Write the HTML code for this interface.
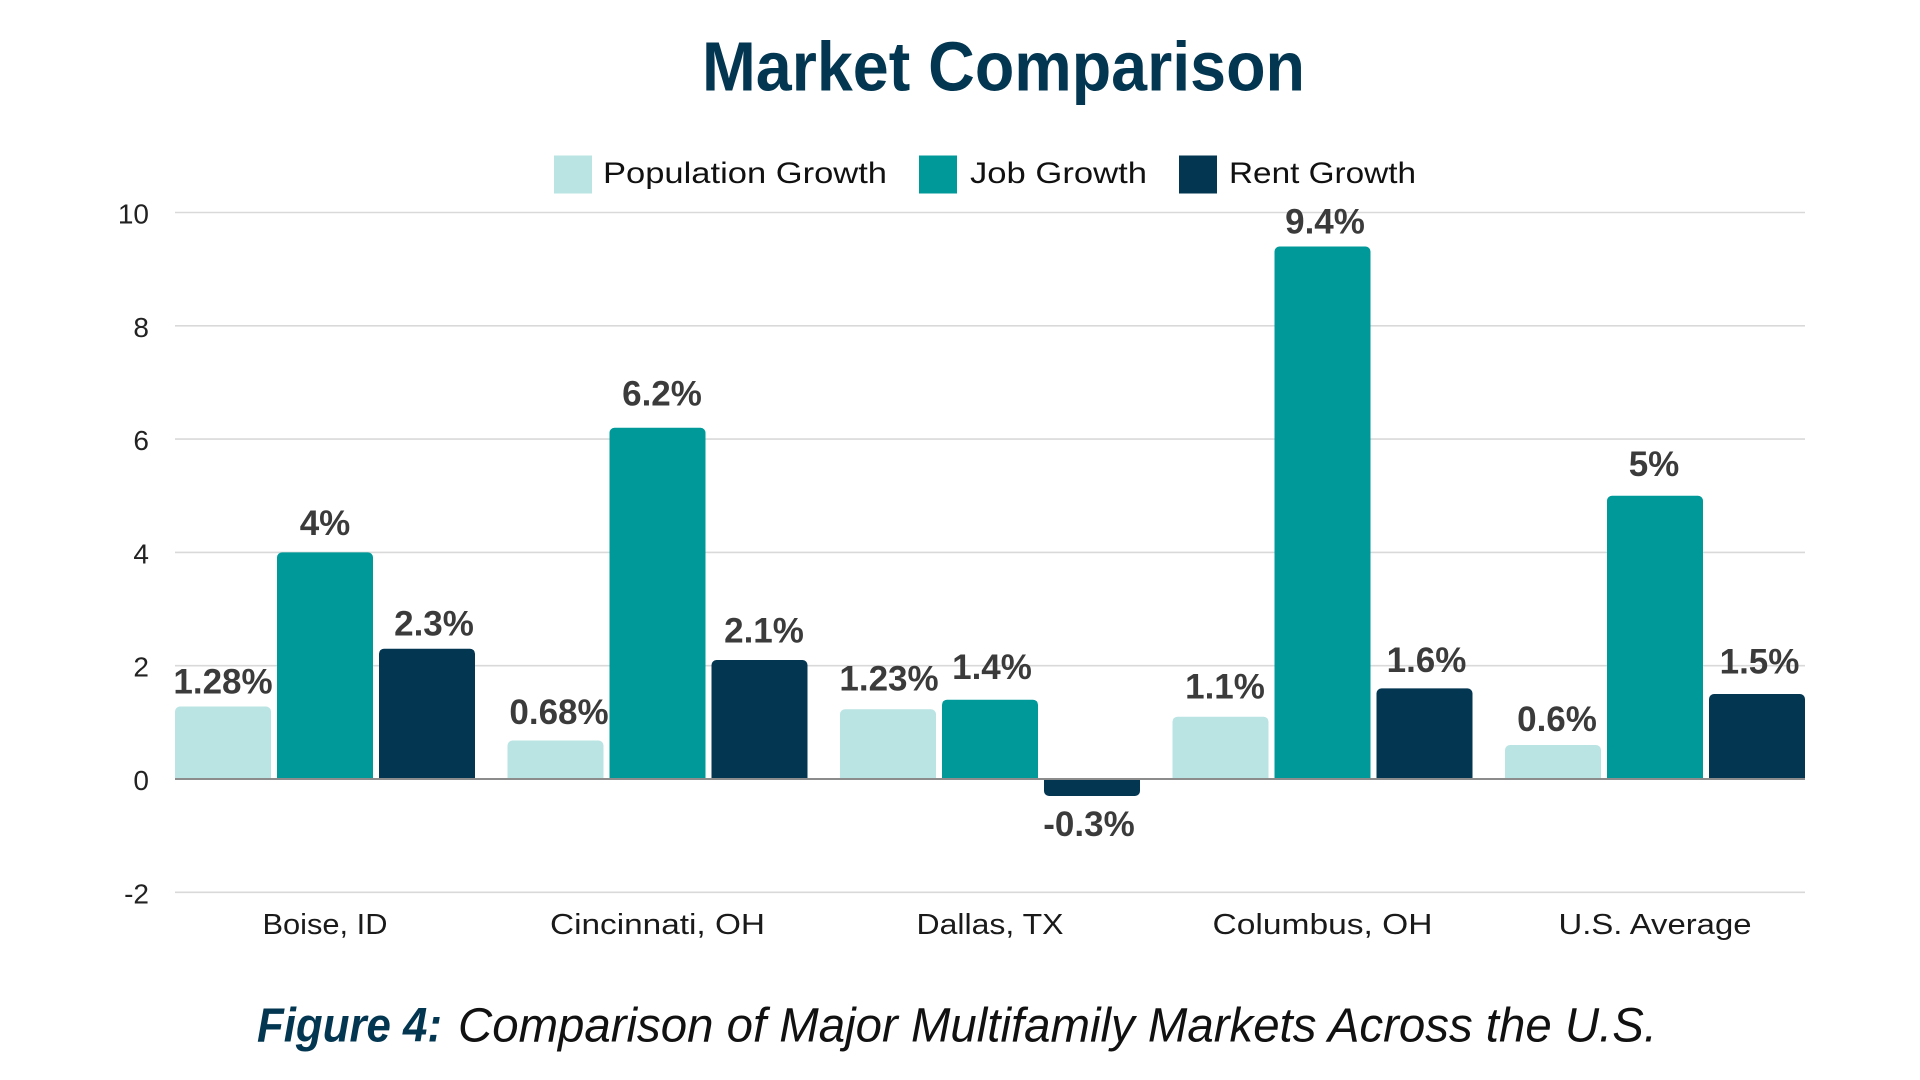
<!DOCTYPE html>
<html>
<head>
<meta charset="utf-8">
<style>
  html, body { margin: 0; padding: 0; background: #ffffff; }
  body { width: 1920px; height: 1080px; overflow: hidden; }
  svg { display: block; }
  text { font-family: "Liberation Sans", "DejaVu Sans", sans-serif; }
</style>
</head>
<body>
<svg width="1920" height="1080" viewBox="0 0 1920 1080" xmlns="http://www.w3.org/2000/svg">
  <rect x="0" y="0" width="1920" height="1080" fill="#ffffff"/>

  <!-- Title -->
  <text x="702" y="90.5" font-size="70" font-weight="bold" fill="#033651" textLength="603" lengthAdjust="spacingAndGlyphs">Market Comparison</text>

  <!-- Legend -->
  <rect x="554" y="155.5" width="38" height="38" fill="#b9e4e3"/>
  <text x="603" y="183" font-size="30" fill="#111111" textLength="284" lengthAdjust="spacingAndGlyphs">Population Growth</text>
  <rect x="919" y="155.5" width="38" height="38" fill="#009999"/>
  <text x="970" y="183" font-size="30" fill="#111111" textLength="177" lengthAdjust="spacingAndGlyphs">Job Growth</text>
  <rect x="1179" y="155.5" width="38" height="38" fill="#033651"/>
  <text x="1229" y="183" font-size="30" fill="#111111" textLength="187" lengthAdjust="spacingAndGlyphs">Rent Growth</text>

  <!-- Gridlines -->
  <g stroke="#d9d9d9" stroke-width="1.6">
    <line x1="175" y1="212.5" x2="1805" y2="212.5"/>
    <line x1="175" y1="325.8" x2="1805" y2="325.8"/>
    <line x1="175" y1="439.1" x2="1805" y2="439.1"/>
    <line x1="175" y1="552.4" x2="1805" y2="552.4"/>
    <line x1="175" y1="665.7" x2="1805" y2="665.7"/>
    <line x1="175" y1="892.3" x2="1805" y2="892.3"/>
  </g>

  <!-- Y axis labels -->
  <g font-size="28" fill="#222222" text-anchor="end">
    <text x="149" y="223.5">10</text>
    <text x="149" y="336.8">8</text>
    <text x="149" y="450.1">6</text>
    <text x="149" y="563.4">4</text>
    <text x="149" y="676.7">2</text>
    <text x="149" y="790">0</text>
    <text x="149" y="903.3">-2</text>
  </g>

  <!-- Bars: Population -->
  <g fill="#b9e4e3">
    <rect x="175" y="706.5" width="96" height="72.5" rx="5"/><rect x="175" y="771" width="96" height="8"/>
    <rect x="507.5" y="740.5" width="96" height="38.5" rx="5"/><rect x="507.5" y="771" width="96" height="8"/>
    <rect x="840" y="709.3" width="96" height="69.7" rx="5"/><rect x="840" y="771" width="96" height="8"/>
    <rect x="1172.5" y="716.7" width="96" height="62.3" rx="5"/><rect x="1172.5" y="771" width="96" height="8"/>
    <rect x="1505" y="745" width="96" height="34" rx="5"/><rect x="1505" y="771" width="96" height="8"/>
  </g>
  <!-- Bars: Job -->
  <g fill="#009999">
    <rect x="277" y="552.4" width="96" height="226.6" rx="5"/><rect x="277" y="771" width="96" height="8"/>
    <rect x="609.5" y="427.8" width="96" height="351.2" rx="5"/><rect x="609.5" y="771" width="96" height="8"/>
    <rect x="942" y="699.7" width="96" height="79.3" rx="5"/><rect x="942" y="771" width="96" height="8"/>
    <rect x="1274.5" y="246.5" width="96" height="532.5" rx="5"/><rect x="1274.5" y="771" width="96" height="8"/>
    <rect x="1607" y="495.75" width="96" height="283.25" rx="5"/><rect x="1607" y="771" width="96" height="8"/>
  </g>
  <!-- Bars: Rent -->
  <g fill="#033651">
    <rect x="379" y="648.7" width="96" height="130.3" rx="5"/><rect x="379" y="771" width="96" height="8"/>
    <rect x="711.5" y="660" width="96" height="119" rx="5"/><rect x="711.5" y="771" width="96" height="8"/>
    <rect x="1044" y="779" width="96" height="17" rx="5"/><rect x="1044" y="779" width="96" height="8"/>
    <rect x="1376.5" y="688.4" width="96" height="90.6" rx="5"/><rect x="1376.5" y="771" width="96" height="8"/>
    <rect x="1709" y="694" width="96" height="85" rx="5"/><rect x="1709" y="771" width="96" height="8"/>
  </g>

  <!-- Zero line -->
  <line x1="175" y1="779" x2="1805" y2="779" stroke="#8c8c8c" stroke-width="2"/>

  <!-- Data labels -->
  <g font-size="35" font-weight="bold" fill="#3b3b3b" text-anchor="middle">
    <text x="223" y="693.3">1.28%</text>
    <text x="325" y="535">4%</text>
    <text x="434" y="635.4">2.3%</text>

    <text x="559" y="724.2">0.68%</text>
    <text x="662" y="405.6">6.2%</text>
    <text x="764" y="642.6">2.1%</text>

    <text x="889" y="690.5">1.23%</text>
    <text x="992" y="679">1.4%</text>
    <text x="1089" y="836">-0.3%</text>

    <text x="1225" y="698.4">1.1%</text>
    <text x="1325" y="233.3">9.4%</text>
    <text x="1426.5" y="671.9">1.6%</text>

    <text x="1557" y="731.1">0.6%</text>
    <text x="1654" y="476.2">5%</text>
    <text x="1759.5" y="673.3">1.5%</text>
  </g>

  <!-- Category labels -->
  <g font-size="29" fill="#1a1a1a" text-anchor="middle">
    <text x="325" y="934" textLength="125" lengthAdjust="spacingAndGlyphs">Boise, ID</text>
    <text x="657.5" y="934" textLength="215" lengthAdjust="spacingAndGlyphs">Cincinnati, OH</text>
    <text x="990" y="934" textLength="147" lengthAdjust="spacingAndGlyphs">Dallas, TX</text>
    <text x="1322.5" y="934" textLength="220" lengthAdjust="spacingAndGlyphs">Columbus, OH</text>
    <text x="1655" y="934" textLength="193" lengthAdjust="spacingAndGlyphs">U.S. Average</text>
  </g>

  <!-- Caption -->
  <text x="257" y="1041.5" font-size="48" font-weight="bold" font-style="italic" fill="#033651" textLength="185" lengthAdjust="spacingAndGlyphs">Figure 4:</text>
  <text x="458" y="1041.5" font-size="48" font-style="italic" fill="#111111" textLength="1199" lengthAdjust="spacingAndGlyphs">Comparison of Major Multifamily Markets Across the U.S.</text>
</svg>
</body>
</html>
